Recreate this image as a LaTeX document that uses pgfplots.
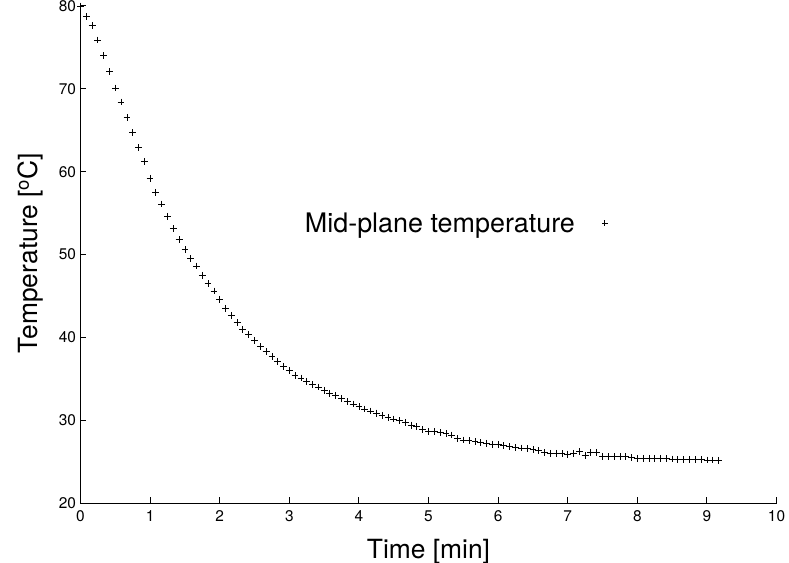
\documentclass[border=0pt]{standalone}
\usepackage{fontspec}
\setmainfont{TeX Gyre Heros}
\usepackage{pgfplots}
\usepackage{pgfplotstable}
\pgfplotsset{compat=1.18}
\pgfplotstableread{
t T
0.000 80.0
0.083 78.7
0.167 77.6
0.250 75.9
0.333 74.0
0.417 72.1
0.500 70.1
0.583 68.4
0.667 66.5
0.750 64.7
0.833 62.9
0.917 61.2
1.000 59.2
1.083 57.5
1.167 56.1
1.250 54.6
1.333 53.1
1.417 51.8
1.500 50.6
1.583 49.5
1.667 48.6
1.750 47.5
1.833 46.5
1.917 45.6
2.000 44.6
2.083 43.5
2.167 42.6
2.250 41.8
2.333 40.9
2.417 40.3
2.500 39.6
2.583 38.9
2.667 38.3
2.750 37.7
2.833 37.1
2.917 36.5
3.000 36.0
3.083 35.4
3.167 35.1
3.250 34.7
3.333 34.3
3.417 34.0
3.500 33.6
3.583 33.25
3.667 32.95
3.750 32.6
3.833 32.25
3.917 31.95
4.000 31.65
4.083 31.35
4.167 31.1
4.250 30.85
4.333 30.6
4.417 30.35
4.500 30.15
4.583 29.95
4.667 29.75
4.750 29.4
4.833 29.2
4.917 28.85
5.000 28.65
5.083 28.6
5.167 28.5
5.250 28.4
5.333 28.2
5.417 27.75
5.500 27.6
5.583 27.5
5.667 27.4
5.750 27.3
5.833 27.2
5.917 27.1
6.000 27.05
6.083 26.9
6.167 26.8
6.250 26.7
6.333 26.65
6.417 26.55
6.500 26.45
6.583 26.3
6.667 26.05
6.750 26.0
6.833 26.0
6.917 25.95
7.000 25.9
7.083 26.0
7.167 26.2
7.250 25.7
7.333 26.1
7.417 26.1
7.500 25.65
7.583 25.6
7.667 25.6
7.750 25.6
7.833 25.6
7.917 25.5
8.000 25.4
8.083 25.4
8.167 25.4
8.250 25.4
8.333 25.4
8.417 25.35
8.500 25.3
8.583 25.25
8.667 25.25
8.750 25.25
8.833 25.25
8.917 25.25
9.000 25.2
9.083 25.2
9.167 25.15
}\datatable
\begin{document}
\begin{tikzpicture}
\begin{axis}[
  at={(0,0)}, anchor=south west,
  scale only axis, width=696bp, height=497bp,
  xmin=0, xmax=10, ymin=20, ymax=80,
  axis lines=left, axis line style={-, line width=1bp},
  xtick={0,1,...,10}, ytick={20,30,...,80},
  tick align=inside, major tick length=6bp,
  tick style={line width=1bp, black},
  tick label style={font=\fontsize{15.5}{18}\selectfont},
  /pgf/number format/assume math mode=true,
  xticklabel style={yshift=-4bp},
  yticklabel style={xshift=-1bp},
  xlabel={Time [min]}, ylabel={Temperature [\textsuperscript{o}C]},
  label style={font=\fontsize{26.5}{30}\selectfont},
  xlabel style={at={(axis description cs:0.5,-0.0985)}, anchor=center},
  ylabel style={at={(axis description cs:-0.0711,0.503)}, anchor=center},
  clip=false,
  legend style={draw=none, fill=none, inner sep=0pt, at={(axis cs:7.58,53.8)}, anchor=east, font=\fontsize{27}{30}\selectfont},
  legend plot pos=right,
  legend image code/.code={\path[draw=none, fill=none] (0bp,0bp) -- (31bp,0bp); \draw[mark=+, mark size=2.8bp, line width=0.6bp, only marks] plot coordinates {(28bp,0bp)};},
]
\addplot[only marks, mark=+, mark size=3.4bp, mark options={line width=0.8bp, black}] table[x=t, y=T] {\datatable};
\addlegendentry{Mid-plane temperature}
\end{axis}
\pgfresetboundingbox
\useasboundingbox (-80.5bp,-60bp) rectangle (708.5bp,503bp);
\end{tikzpicture}
\end{document}
